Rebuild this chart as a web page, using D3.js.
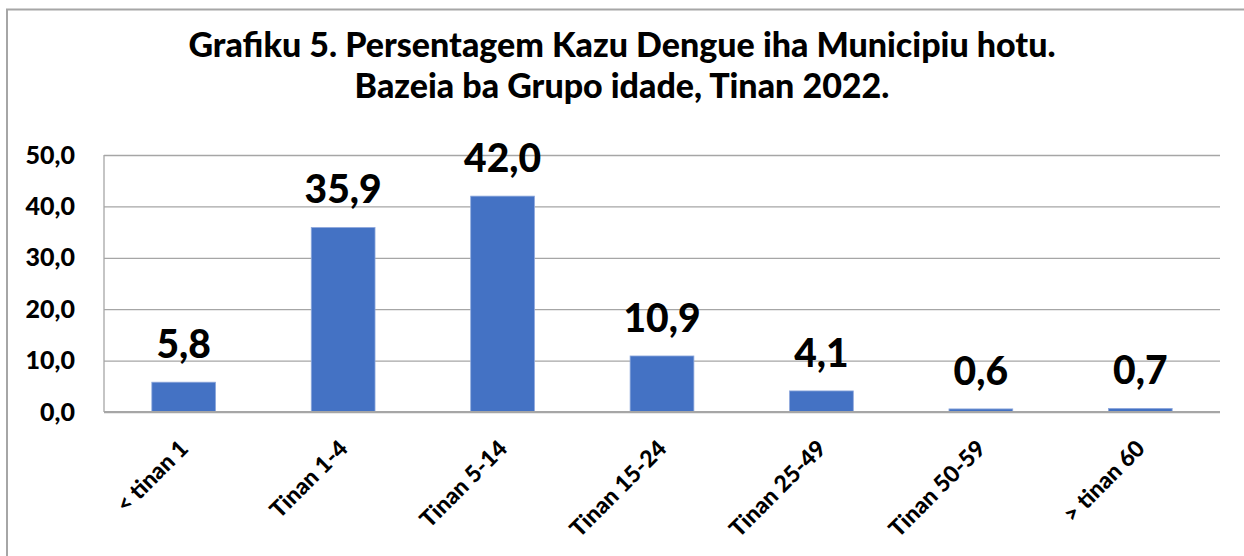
<!DOCTYPE html>
<html><head><meta charset="utf-8">
<script src="https://cdn.jsdelivr.net/npm/d3@7"></script>
<style>html,body{margin:0;padding:0;background:#fff;}svg{display:block;}</style>
</head><body>
<svg id="chart" width="1244" height="556"></svg>
<script>
const categories = ["< tinan 1", "Tinan 1-4", "Tinan 5-14", "Tinan 15-24", "Tinan 25-49", "Tinan 50-59", "> tinan 60"];
const values = [5.8, 35.9, 42.0, 10.9, 4.1, 0.6, 0.7];
const yTicks = [0, 10, 20, 30, 40, 50];
const titleLines = ["Grafiku 5. Persentagem Kazu Dengue iha Municipiu hotu.", "Bazeia ba Grupo idade, Tinan 2022."];

const svg = d3.select("#chart");
const font = "Lato, 'Noto Sans', sans-serif";
const fmt = v => v.toFixed(1).replace(".", ",");

// outer border (top & left visible)
svg.append("path").attr("d", "M7,560 L7,9.5 L1250,9.5")
  .attr("fill", "none").attr("stroke", "#a6a6a6").attr("stroke-width", 2);

const m = {left: 104, right: 1220, top: 155, bottom: 412};
const x = d3.scaleBand().domain(categories).range([m.left, m.right]).paddingInner(0.6).paddingOuter(0.3);
const y = d3.scaleLinear().domain([0, 50]).range([m.bottom, m.top]);

// title
svg.append("g").selectAll("text").data(titleLines).join("text")
  .attr("x", 622).attr("y", (d, i) => 57 + i * 41)
  .attr("text-anchor", "middle").attr("font-family", font).attr("font-weight", 900)
  .attr("font-size", 34).attr("fill", "#000").text(d => d);

// gridlines
const yAxis = d3.axisLeft(y).tickValues(yTicks).tickSize(-(m.right - m.left)).tickFormat(fmt).tickPadding(29);
const gy = svg.append("g").attr("transform", `translate(${m.left},0)`).call(yAxis);
gy.select(".domain").remove();
gy.selectAll(".tick line").attr("stroke", "#a6a6a6").attr("stroke-width", 1.3);
gy.selectAll(".tick text").attr("font-family", font).attr("font-weight", 900)
  .attr("font-size", 25).attr("fill", "#000");

// left axis line
svg.append("line").attr("x1", m.left).attr("x2", m.left).attr("y1", m.top).attr("y2", m.bottom)
  .attr("stroke", "#a6a6a6").attr("stroke-width", 1.3);

// bars
svg.append("g").selectAll("rect").data(values).join("rect")
  .attr("x", (d, i) => x(categories[i])).attr("width", x.bandwidth())
  .attr("y", d => y(d)).attr("height", d => y(0) - y(d))
  .attr("fill", "#4472c4").attr("stroke", "#8fa9dc").attr("stroke-width", 0.8);

// baseline
svg.append("line").attr("x1", m.left).attr("x2", m.right).attr("y1", y(0)).attr("y2", y(0))
  .attr("stroke", "#a6a6a6").attr("stroke-width", 2);

// value labels
svg.append("g").selectAll("text").data(values).join("text")
  .attr("x", (d, i) => x(categories[i]) + x.bandwidth() / 2)
  .attr("y", d => y(d) - 24)
  .attr("text-anchor", "middle").attr("font-family", font).attr("font-weight", 900)
  .attr("font-size", 39).attr("fill", "#000").text(fmt);

// x labels
svg.append("g").selectAll("text").data(categories).join("text")
  .attr("transform", d => `translate(${x(d) + x.bandwidth() / 2 + 6},${m.bottom + 38}) rotate(-45)`)
  .attr("text-anchor", "end").attr("font-family", font).attr("font-weight", 900)
  .attr("font-size", 23).attr("fill", "#000").text(d => d);
</script>
</body></html>
